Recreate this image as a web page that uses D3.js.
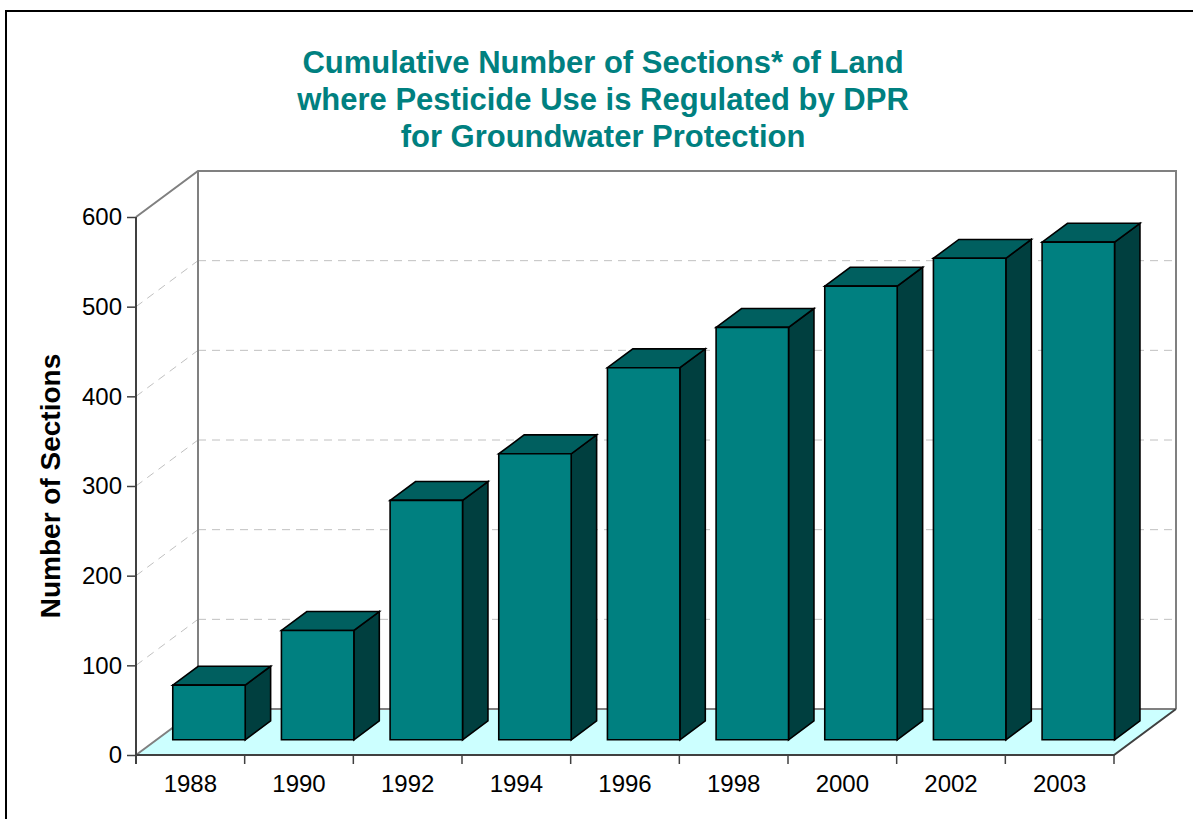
<!DOCTYPE html>
<html>
<head>
<meta charset="utf-8">
<script src="https://cdn.jsdelivr.net/npm/d3@7"></script>
<style>
  body { margin: 0; background: #fff; }
  svg { display: block; font-family: "Liberation Sans", Arial, sans-serif; }
</style>
</head>
<body>
<svg id="grafico"></svg>
<script>
// dados
let anos = ["1988", "1990", "1992", "1994", "1996", "1998", "2000", "2002", "2003"];
let secoes = [61, 122, 267, 319, 415, 460, 506, 537, 555];
let ticksY = [0, 100, 200, 300, 400, 500, 600];
let titulo = ["Cumulative Number of Sections* of Land",
              "where Pesticide Use is Regulated by DPR",
              "for Groundwater Protection"];
let rotuloY = "Number of Sections";

let width = 1193, height = 819;
let svg = d3.select("#grafico")
    .attr("width", width)
    .attr("height", height);

// deslocamento da profundidade (perspectiva oblíqua)
let DX = 62, DY = 46;
let prof0 = 0.33, prof1 = 0.74;

let x = d3.scaleBand()
    .domain(anos)
    .range([136, 1114])
    .paddingInner(1/3)
    .paddingOuter(1/6)
    .align(0.45);

let y = d3.scaleLinear()
    .domain([0, 600])
    .range([755, 217]);

// projeta um ponto (x, y, profundidade) para a tela
function proj(px, py, d) {
    return [px + d * DX, py - d * DY];
}
function poligono(pts) {
    return "M" + pts.map(p => p.join(",")).join("L") + "Z";
}

let x0 = x.range()[0], x1 = x.range()[1];
let yBase = y(0), yTopo = y(600);
let passo = (x1 - x0) / anos.length;

// borda externa
svg.append("rect")
    .attr("x", 6).attr("y", 11)
    .attr("width", 1200).attr("height", 830)
    .attr("fill", "none")
    .attr("stroke", "#000")
    .attr("stroke-width", 2);

// titulo
svg.append("g").selectAll("text")
    .data(titulo)
    .enter().append("text")
    .attr("x", 603)
    .attr("y", (d, i) => 73 + i * 37)
    .attr("text-anchor", "middle")
    .attr("font-weight", "bold")
    .attr("font-size", 31)
    .attr("fill", "#008080")
    .text(d => d);

// grade tracejada (parede esquerda e parede do fundo)
let grade = svg.append("g");
grade.selectAll("path.diag")
    .data(ticksY.filter(v => v > 0 && v < 600))
    .enter().append("path")
    .attr("d", v => "M" + proj(x0, y(v), 0) + "L" + proj(x0, y(v), 1))
    .attr("stroke", "#c0c0c0")
    .attr("stroke-width", 1)
    .attr("stroke-dasharray", "8,6")
    .attr("fill", "none");
grade.selectAll("path.fundo")
    .data(ticksY.filter(v => v > 0 && v < 600))
    .enter().append("path")
    .attr("d", v => "M" + proj(x0, y(v), 1) + "L" + proj(x1, y(v), 1))
    .attr("stroke", "#c0c0c0")
    .attr("stroke-width", 1)
    .attr("stroke-dasharray", "8,6")
    .attr("fill", "none");

// contorno das paredes
let paredes = svg.append("g")
    .attr("stroke", "#808080")
    .attr("stroke-width", 2)
    .attr("fill", "none");
paredes.append("path")
    .attr("d", "M" + proj(x0, yTopo, 0) + "L" + proj(x0, yTopo, 1) +
               "L" + proj(x1, yTopo, 1) + "L" + proj(x1, yBase, 1));
paredes.append("path")
    .attr("d", "M" + proj(x0, yTopo, 1) + "L" + proj(x0, yBase, 1));

// piso
svg.append("path")
    .attr("d", poligono([proj(x0, yBase, 0), proj(x1, yBase, 0), proj(x1, yBase, 1), proj(x0, yBase, 1)]))
    .attr("fill", "#ccffff")
    .attr("stroke", "none");
svg.append("path")
    .attr("d", "M" + proj(x0, yBase, 0) + "L" + proj(x0, yBase, 1) + "L" + proj(x1, yBase, 1))
    .attr("stroke", "#808080")
    .attr("stroke-width", 2)
    .attr("fill", "none");
svg.append("path")
    .attr("d", "M" + proj(x0, yBase, 0) + "L" + proj(x1, yBase, 0) + "L" + proj(x1, yBase, 1))
    .attr("stroke", "#404040")
    .attr("stroke-width", 2)
    .attr("fill", "none");

// barras 3D
let barras = svg.append("g").selectAll("g")
    .data(anos.map((a, i) => ({ ano: a, valor: secoes[i] })))
    .enter().append("g")
    .attr("stroke", "#000")
    .attr("stroke-width", 1.6)
    .attr("stroke-linejoin", "miter");

// face lateral
barras.append("path")
    .attr("d", d => {
        let xr = x(d.ano) + x.bandwidth();
        return poligono([proj(xr, yBase, prof0), proj(xr, yBase, prof1), proj(xr, y(d.valor), prof1), proj(xr, y(d.valor), prof0)]);
    })
    .attr("fill", "#003f3f");
// face de cima
barras.append("path")
    .attr("d", d => {
        let xl = x(d.ano), xr = xl + x.bandwidth(), yt = y(d.valor);
        return poligono([proj(xl, yt, prof0), proj(xr, yt, prof0), proj(xr, yt, prof1), proj(xl, yt, prof1)]);
    })
    .attr("fill", "#005f5f");
// face da frente
barras.append("path")
    .attr("d", d => {
        let xl = x(d.ano), xr = xl + x.bandwidth(), yt = y(d.valor);
        return poligono([proj(xl, yBase, prof0), proj(xr, yBase, prof0), proj(xr, yt, prof0), proj(xl, yt, prof0)]);
    })
    .attr("fill", "#008080");

// eixo Y
let eixoY = d3.axisLeft(y)
    .tickValues(ticksY)
    .tickSize(9)
    .tickPadding(5);
let gY = svg.append("g")
    .attr("transform", "translate(" + x0 + ",0)")
    .call(eixoY);
gY.select(".domain").remove();
gY.append("line")
    .attr("x1", 0).attr("x2", 0)
    .attr("y1", yTopo).attr("y2", yBase + 9)
    .attr("stroke", "#404040")
    .attr("stroke-width", 2);
gY.selectAll(".tick line").attr("stroke", "#404040").attr("stroke-width", 1.5);
gY.selectAll(".tick text")
    .attr("font-size", 24)
    .attr("font-family", "Liberation Sans, Arial, sans-serif")
    .attr("fill", "#000");

// eixo X: marcas nos limites das categorias
let limites = anos.map((a, i) => x0 + passo * (i + 1));
svg.append("g").selectAll("line")
    .data(limites)
    .enter().append("line")
    .attr("x1", d => d).attr("x2", d => d)
    .attr("y1", yBase).attr("y2", yBase + 9)
    .attr("stroke", "#404040")
    .attr("stroke-width", 1.5);

svg.append("g").selectAll("text")
    .data(anos)
    .enter().append("text")
    .attr("x", (d, i) => x0 + passo * (i + 0.5))
    .attr("y", 792)
    .attr("text-anchor", "middle")
    .attr("font-size", 24)
    .attr("fill", "#000")
    .text(d => d);

// rótulo do eixo Y
svg.append("text")
    .attr("transform", "translate(60,486) rotate(-90)")
    .attr("text-anchor", "middle")
    .attr("font-weight", "bold")
    .attr("font-size", 28)
    .attr("fill", "#000")
    .text(rotuloY);
</script>
</body>
</html>
